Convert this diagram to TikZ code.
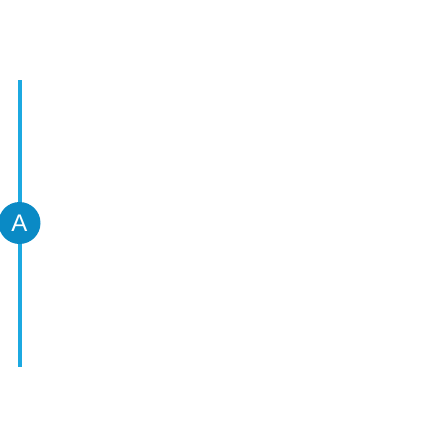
\documentclass[tikz,border=0pt]{standalone}
\usepackage{fontspec}
\setsansfont{Liberation Sans}
\usepackage{xcolor}
\usepackage{tikz}
\usetikzlibrary{positioning}
\definecolor{bluelight}{HTML}{1CA9E1}
\definecolor{bluedark}{HTML}{0A8AC5}
\tikzset{every node/.append style={font=\sffamily},
  markerdot/.style={circle,fill=bluedark,text=white,inner sep=0pt,
    minimum size=42pt,font=\sffamily\fontsize{24}{24}\selectfont}}

\begin{document}
\begin{tikzpicture}[x=1pt,y=-1pt]
  \useasboundingbox (0,0) rectangle (448,448);
  \coordinate (top) at (20,80);
  \coordinate (bot) at (20,367);
  \draw[bluelight,line width=3.5pt] (top)--(bot);
  \node[markerdot] (A) at (19.5,223) {A};
\end{tikzpicture}
\end{document}
